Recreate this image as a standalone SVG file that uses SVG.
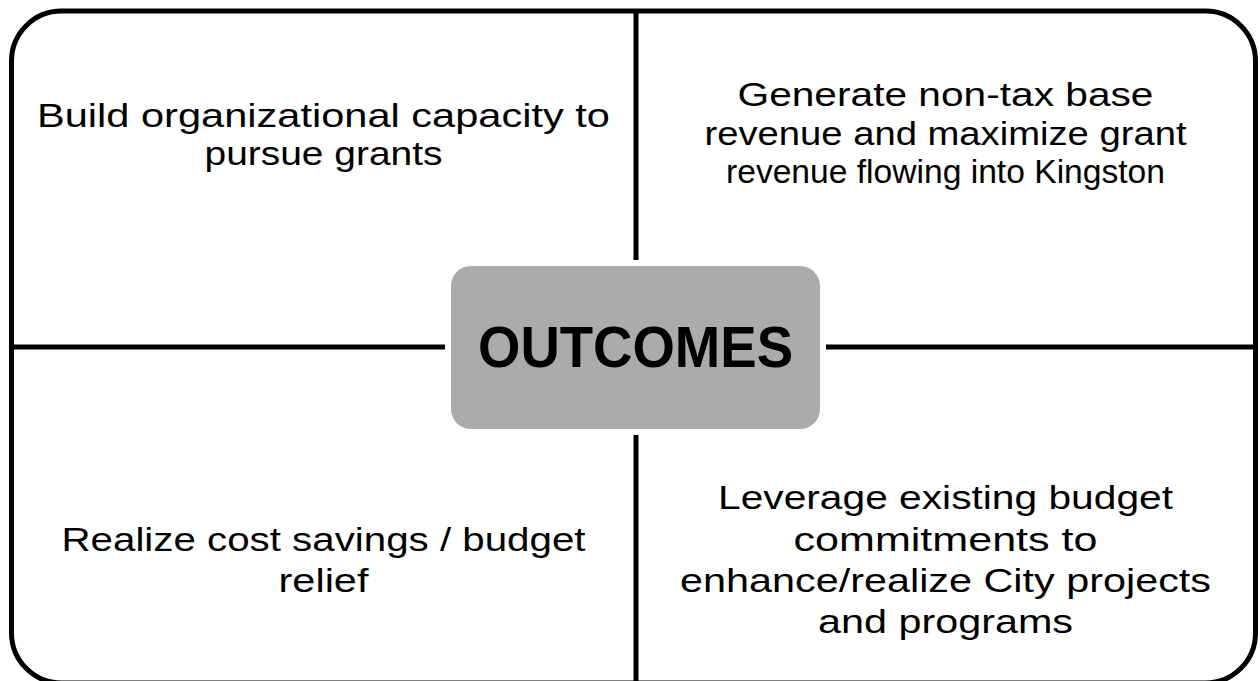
<svg xmlns="http://www.w3.org/2000/svg" width="1260" height="681" viewBox="0 0 1260 681">
  <style>
    .frame { fill: #ffffff; stroke: #000000; stroke-width: 5; }
    .divider { stroke: #000000; stroke-width: 5; fill: none; }
    .label { font-family: "Liberation Sans", Arial, sans-serif; font-size: 32.5px; fill: #000000; text-anchor: middle; }
    .hub-halo { fill: #ffffff; }
    .hub { fill: #ababab; }
    .hub-text { font-family: "Liberation Sans", Arial, sans-serif; font-size: 58px; font-weight: bold; fill: #000000; text-anchor: middle; }
  </style>

  <!-- outer rounded frame -->
  <rect class="frame" x="11.5" y="11" width="1244" height="672" rx="50" ry="50"/>

  <!-- quadrant dividers -->
  <g id="connectors">
    <line class="divider" x1="636" y1="11" x2="636" y2="683"/>
    <line class="divider" x1="11.5" y1="347" x2="1255.5" y2="347"/>
  </g>

  <!-- top-left quadrant -->
  <g id="capacity">
    <text class="label" x="323.5" y="126.5" textLength="573" lengthAdjust="spacingAndGlyphs">Build organizational capacity to</text>
    <text class="label" x="323.5" y="165" textLength="238" lengthAdjust="spacingAndGlyphs">pursue grants</text>
  </g>

  <!-- top-right quadrant -->
  <g id="revenue">
    <text class="label" x="945.5" y="106" textLength="416" lengthAdjust="spacingAndGlyphs">Generate non-tax base</text>
    <text class="label" x="945.5" y="144.5" textLength="482" lengthAdjust="spacingAndGlyphs">revenue and maximize grant</text>
    <text class="label" x="945.5" y="183" textLength="439" lengthAdjust="spacingAndGlyphs">revenue flowing into Kingston</text>
  </g>

  <!-- bottom-left quadrant -->
  <g id="savings">
    <text class="label" x="323.5" y="551" textLength="524" lengthAdjust="spacingAndGlyphs">Realize cost savings / budget</text>
    <text class="label" x="323.5" y="592" textLength="90" lengthAdjust="spacingAndGlyphs">relief</text>
  </g>

  <!-- bottom-right quadrant -->
  <g id="leverage">
    <text class="label" x="945.5" y="509" textLength="455" lengthAdjust="spacingAndGlyphs">Leverage existing budget</text>
    <text class="label" x="945.5" y="550.5" textLength="304" lengthAdjust="spacingAndGlyphs">commitments to</text>
    <text class="label" x="945.5" y="591.5" textLength="531" lengthAdjust="spacingAndGlyphs">enhance/realize City projects</text>
    <text class="label" x="945.5" y="632.5" textLength="255" lengthAdjust="spacingAndGlyphs">and programs</text>
  </g>

  <!-- central hub -->
  <g id="outcomes">
    <rect class="hub-halo" x="445" y="260" width="381" height="175" rx="26" ry="26"/>
    <rect class="hub" x="451" y="266" width="369" height="163" rx="20" ry="20"/>
    <text class="hub-text" x="635.5" y="367" textLength="315" lengthAdjust="spacingAndGlyphs">OUTCOMES</text>
  </g>
</svg>
